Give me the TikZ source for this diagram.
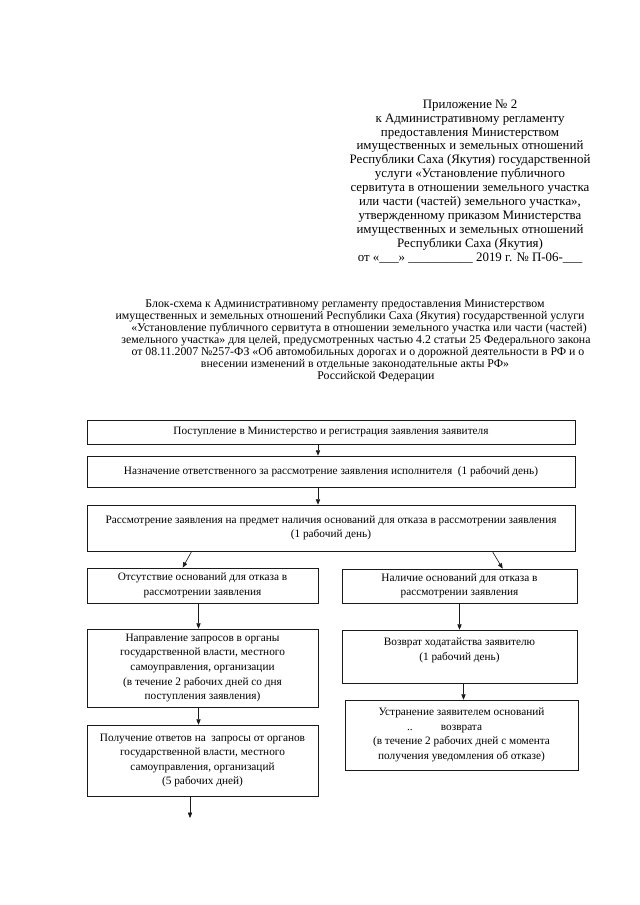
\documentclass[tikz,border=0pt]{standalone}
\usepackage{fontspec}
\setmainfont{Liberation Serif}
\usetikzlibrary{arrows.meta}

\tikzset{
    box/.style={draw=borderColour, line width=0.6pt, align=center, inner sep=1pt,
        font=\fontsize{10.5}{13.5}\selectfont},
    link/.style={draw=borderColour, line width=0.6pt, -{Triangle[width=4pt,length=5pt]}},
    titleline/.style={font=\fontsize{11}{12}\selectfont, inner sep=0pt}
}

\begin{document}
\begin{tikzpicture}[x=0.93pt, y=-0.93pt]
    % Define pixel size
    \def\px{0.93pt}

    \definecolor{borderColour}{HTML}{1A1A1A}

    % Fix page size
    \useasboundingbox (0,0) rectangle (640,905);

    % Draw appendix header
    \node[align=center, font=\fontsize{12}{13}\selectfont] (header) at (470,181.5) {Приложение № 2\\
        к Административному регламенту\\
        предоставления Министерством\\
        имущественных и земельных отношений\\
        Республики Саха (Якутия) государственной\\
        услуги «Установление публичного\\
        сервитута в отношении земельного участка\\
        или части (частей) земельного участка»,\\
        утвержденному приказом Министерства\\
        имущественных и земельных отношений\\
        Республики Саха (Якутия)\\
        от «\_\_\_» \_\_\_\_\_\_\_\_\_\_ 2019 г. № П-06-\_\_\_};

    % Draw title lines
    \node[titleline] (title1) at (345,305) {Блок-схема к Административному регламенту предоставления Министерством};
    \node[titleline] (title2) at (350,317) {имущественных и земельных отношений Республики Саха (Якутия) государственной услуги};
    \node[titleline] (title3) at (359,329) {«Установление публичного сервитута в отношении земельного участка или части (частей)};
    \node[titleline] (title4) at (356,341) {земельного участка» для целей, предусмотренных частью 4.2 статьи 25 Федерального закона};
    \node[titleline] (title5) at (358,353) {от 08.11.2007 №257-ФЗ «Об автомобильных дорогах и о дорожной деятельности в РФ и о};
    \node[titleline] (title6) at (355,365) {внесении изменений в отдельные законодательные акты РФ»};
    \node[titleline] (title7) at (376,377) {Российской Федерации};

    % Draw main column
    \node[box, minimum width=488*\px, minimum height=24*\px] (receipt) at (331,432)
        {Поступление в Министерство и регистрация заявления заявителя};
    \node[box, minimum width=488*\px, minimum height=31*\px] (assign) at (331,471.5)
        {Назначение ответственного за рассмотрение заявления исполнителя~ (1 рабочий день)};
    \node[box, minimum width=488*\px, minimum height=46*\px] (review) at (331,528)
        {Рассмотрение заявления на предмет наличия оснований для отказа в рассмотрении заявления\\
        (1 рабочий день)};

    % Draw left branch
    \node[box, minimum width=231*\px, minimum height=35*\px] (noGrounds) at (202.5,585.5)
        {Отсутствие оснований для отказа в\\рассмотрении заявления};
    \node[box, minimum width=231*\px, minimum height=78*\px] (requests) at (202.5,668)
        {Направление запросов в органы\\
        государственной власти, местного\\
        самоуправления, организации\\
        (в течение 2 рабочих дней со дня\\
        поступления заявления)};
    \node[box, minimum width=231*\px, minimum height=71*\px] (answers) at (202.5,760.5)
        {Получение ответов на~ запросы от органов\\
        государственной власти, местного\\
        самоуправления, организаций\\
        (5 рабочих дней)};

    % Draw right branch
    \node[box, minimum width=235*\px, minimum height=34*\px] (grounds) at (459.5,586)
        {Наличие оснований для отказа в\\рассмотрении заявления};
    \node[box, minimum width=235*\px, minimum height=53*\px] (returnApp) at (459.5,656.5)
        {Возврат ходатайства заявителю\\(1 рабочий день)\\~};
    \node[box, minimum width=233*\px, minimum height=70*\px] (removal) at (461.5,735)
        {Устранение заявителем оснований\\
        \llap{..\hspace{2.5em}}возврата\\
        (в течение 2 рабочих дней с момента\\
        получения уведомления об отказе)};

    % Draw arrows
    \draw[link] ([xshift=-13*\px]receipt.south) -- ([xshift=-13*\px]assign.north);
    \draw[link] ([xshift=-13*\px]assign.south) -- ([xshift=-13*\px]review.north);
    \draw[link] ([xshift=105*\px]review.south west) -- ([xshift=96*\px]noGrounds.north west);
    \draw[link] ([xshift=-83*\px]review.south east) -- ([xshift=161*\px]grounds.north west);
    \draw[link] ([xshift=-4*\px]noGrounds.south) -- ([xshift=-4*\px]requests.north);
    \draw[link] ([xshift=-4*\px]requests.south) -- ([xshift=-4*\px]answers.north);
    \draw[link] (grounds.south) -- (returnApp.north);
    \draw[link] ([xshift=4*\px]returnApp.south) -- ([xshift=2*\px]removal.north);
    \coordinate (end) at (190,818);
    \draw[link] (answers.south -| end) -- (end);

\end{tikzpicture}
\end{document}
